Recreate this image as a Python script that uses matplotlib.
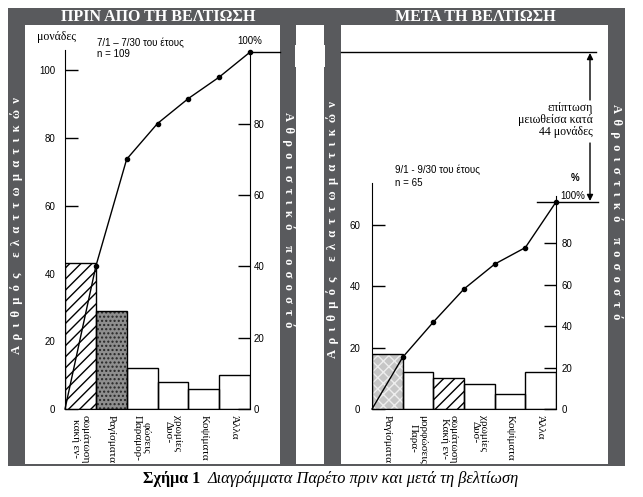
import matplotlib.pyplot as plt
from matplotlib.patches import Rectangle

W, H = 643, 497
GRAY = '#595a5d'

# ---- data ----
cats_before = ['κακή εν-\nσωμάτωση', 'Ραγίσματα', 'Παραμορ-\nφώσεις', 'Δυσ-\nχρωμίες', 'Κοψίματα', 'Άλλα']
counts_before = [43, 29, 12, 8, 6, 10]
cum_before = [0, 40, 70, 80, 87, 93, 100]

cats_after = ['Ραγίσματα', 'Παρα-\nμορφώσεις', 'Κακή εν-\nσωμάτωση', 'Δυσ-\nχρωμίες', 'Κοψίματα', 'Άλλα']
counts_after = [18, 12, 10, 8, 5, 12]
cum_after = [0, 25, 42, 58, 70, 78, 100]

yticks_before = [0, 20, 40, 60, 80, 100]
pticks_before = [0, 20, 40, 60, 80]
yticks_after = [0, 20, 40, 60]
pticks_after = [0, 20, 40, 60, 80]

# bar fills: (facecolor, hatch, hatch colour)
fills_before = [('white', '///', 'black'), ('#8e8e8e', '....', '#262626'),
                ('white', '', 'black'), ('white', '', 'black'),
                ('white', '', 'black'), ('white', '', 'black')]
fills_after = [('#c6c6c6', 'xxx', '#eeeeee'), ('white', '', 'black'),
               ('white', '///', 'black'), ('white', '', 'black'),
               ('white', '', 'black'), ('white', '', 'black')]

SERIF = 'Liberation Serif'
SANS = 'Liberation Sans'

fig = plt.figure(figsize=(W / 100, H / 100), dpi=100)
fig.patch.set_facecolor('white')

# background / frame in pixel coordinates
bg = fig.add_axes([0, 0, 1, 1])
bg.set_xlim(0, W)
bg.set_ylim(H, 0)
bg.axis('off')
for x0, y0, w, h in [(8, 8, 617, 17), (8, 8, 17, 457), (280, 8, 16, 457),
                     (324, 8, 17, 457), (608, 8, 17, 457), (8, 464, 617, 2)]:
    bg.add_patch(Rectangle((x0, y0), w, h, color=GRAY, lw=0))
bg.add_patch(Rectangle((295, 45), 30, 22, color='white', lw=0))

title_kw = dict(color='white', fontweight='bold', family=SERIF, fontsize=11.5,
                ha='center', va='center')
bg.text(158, 17, 'ΠΡΙΝ ΑΠΟ ΤΗ ΒΕΛΤΙΩΣΗ', **title_kw)
bg.text(475, 17, 'ΜΕΤΑ ΤΗ ΒΕΛΤΙΩΣΗ', **title_kw)


def spaced(s):
    return '  '.join(s)


strip_kw = dict(color='white', fontweight='bold', family=SERIF, fontsize=9,
                ha='center', va='center')
bg.text(16.5, 226, spaced('Αριθμός ελαττωματικών'), rotation=90, **strip_kw)
bg.text(288, 220, spaced('Αθροιστικό ποσοστό'), rotation=270, **strip_kw)
bg.text(332.5, 230, spaced('Αριθμός ελαττωματικών'), rotation=90, **strip_kw)
bg.text(616.5, 212, spaced('Αθροιστικό ποσοστό'), rotation=270, **strip_kw)

# caption
bg.text(143, 479, 'Σχήμα 1', family=SERIF, fontweight='bold', fontsize=11.5,
        ha='left', va='center')
bg.text(208, 479, 'Διαγράμματα Παρέτο πριν και μετά τη βελτίωση', family=SERIF,
        style='italic', fontsize=11.8, ha='left', va='center')


def px_axes(x0, y0, x1, y1):
    ax = fig.add_axes([x0 / W, 1 - y1 / H, (x1 - x0) / W, (y1 - y0) / H])
    ax.set_facecolor('none')
    return ax


def pareto(box, cats, counts, cum, fills, ytop, ptop, pbound, yticks, pticks,
           lpad, rpad):
    ax = px_axes(*box)
    x = [i + 0.5 for i in range(len(cats))]
    for xi, c, (fc, hatch, hc) in zip(x, counts, fills):
        ax.bar(xi, c, width=1, color=fc, hatch=hatch, edgecolor=hc, lw=0, zorder=2)
        ax.bar(xi, c, width=1, facecolor='none', edgecolor='black', lw=1, zorder=3)
    ax.set_xlim(0, len(cats))
    ax.set_ylim(0, ytop)
    ax.set_xticks(x)
    # the scan stacks the two label lines left to right
    labels = ['\n'.join(reversed(c.split('\n'))) for c in cats]
    ax.set_xticklabels(labels, rotation=270, ha='center', va='top', family=SERIF,
                       fontsize=8, linespacing=1.0)
    ax.tick_params(axis='x', length=0, pad=4)
    ax.set_yticks(yticks)
    ax.tick_params(axis='y', direction='in', length=9, width=1, labelsize=7,
                   pad=lpad)
    for lab in ax.get_yticklabels():
        lab.set_family(SANS)
    for s in ['top', 'right']:
        ax.spines[s].set_visible(False)

    ax2 = ax.twinx()
    ax2.set_ylim(0, ptop)
    ax2.set_yticks(pticks)
    ax2.tick_params(axis='y', direction='in', length=9, width=1, labelsize=7,
                    pad=rpad)
    for lab in ax2.get_yticklabels():
        lab.set_family(SANS)
    for s in ['top', 'left', 'bottom']:
        ax2.spines[s].set_visible(False)
    ax2.spines['right'].set_bounds(0, pbound)
    ax2.plot(range(len(cum)), cum, color='black', lw=1, marker='o', ms=3,
             markevery=list(range(1, len(cum))), zorder=4, clip_on=False)
    return ax, ax2


# before: counts 0 at y=409 px, 100 at y=70 px; percent 100 at y=52 px
pareto((65, 50, 250, 409), cats_before, counts_before, cum_before, fills_before,
       ytop=106, ptop=100.6, pbound=100, yticks=yticks_before,
       pticks=pticks_before, lpad=7, rpad=2.5)
# after: percent 100 at y=202 px
pareto((372, 183, 556, 409), cats_after, counts_after, cum_after, fills_after,
       ytop=73.5, ptop=109.2, pbound=103, yticks=yticks_after,
       pticks=pticks_after, lpad=8.5, rpad=4)

# texts of the "before" panel
bg.text(37, 37, 'μονάδες', family=SERIF, fontsize=8.5, ha='left', va='center')
bg.text(97, 43, '7/1 – 7/30 του έτους', family=SANS, fontsize=7, ha='left',
        va='center')
bg.text(97, 54, 'n = 109', family=SANS, fontsize=7, ha='left', va='center')
bg.text(250, 41, '100%', family=SANS, fontsize=7, ha='center', va='center')
bg.plot([250, 280], [52, 52], color='black', lw=1)

# texts and reduction arrow of the "after" panel
bg.text(395, 170, '9/1 - 9/30 του έτους', family=SANS, fontsize=7, ha='left',
        va='center')
bg.text(395, 183, 'n = 65', family=SANS, fontsize=7, ha='left', va='center')
bg.text(575, 178, '%', family=SANS, fontsize=7, fontweight='bold', ha='center',
        va='center')
bg.text(560, 196, '100%', family=SANS, fontsize=7, ha='left', va='center')
bg.plot([537, 598], [202, 202], color='black', lw=1)
bg.plot([341, 596], [52, 52], color='black', lw=1)
bg.annotate('', xy=(590, 53), xytext=(590, 100),
            arrowprops=dict(arrowstyle='-|>', color='black', lw=1,
                            mutation_scale=9, shrinkA=0, shrinkB=0))
bg.annotate('', xy=(590, 201), xytext=(590, 143),
            arrowprops=dict(arrowstyle='-|>', color='black', lw=1,
                            mutation_scale=9, shrinkA=0, shrinkB=0))
bg.text(593, 120, 'επίπτωση\nμειωθείσα κατά\n44 μονάδες', family=SERIF,
        fontsize=8.5, ha='right', va='center', multialignment='right',
        linespacing=1.05)

fig.savefig('out.png', dpi=100)
